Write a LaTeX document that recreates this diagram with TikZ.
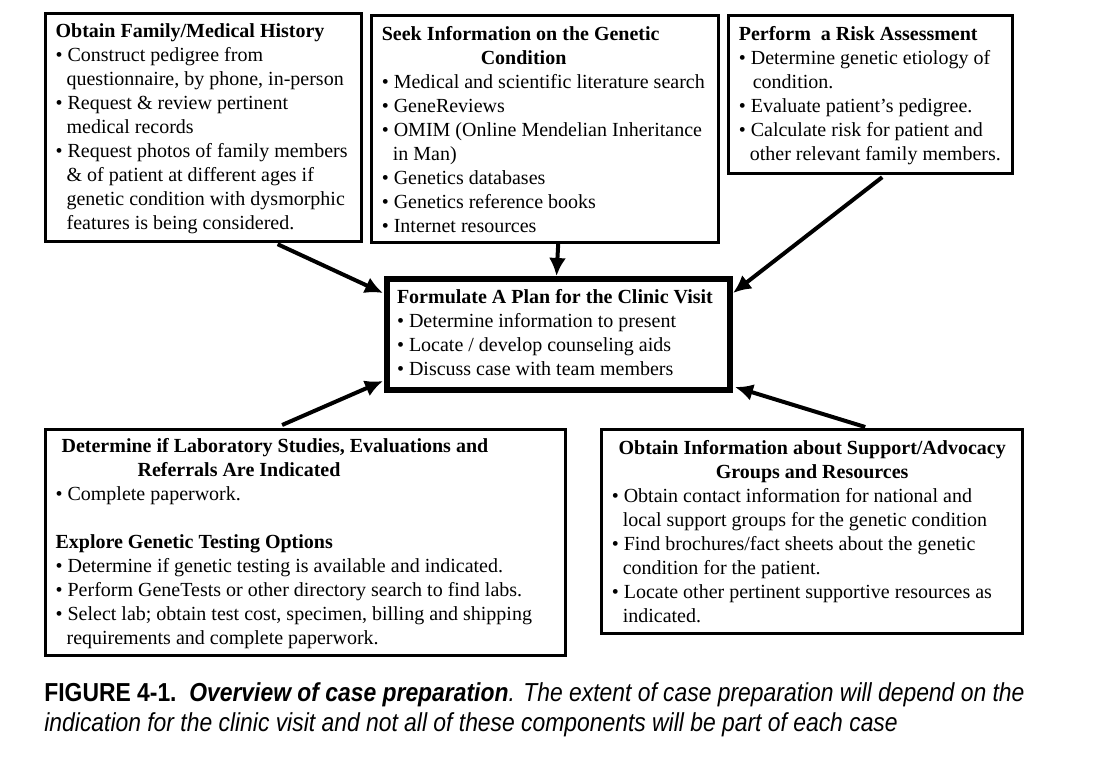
\documentclass[tikz,border=0pt]{standalone}
\usepackage{fontspec}
\setmainfont{Liberation Serif}
\newfontfamily\capfont[FakeStretch=0.88]{Liberation Sans}
\usetikzlibrary{positioning,arrows.meta}

\newcommand{\ttl}[2][0pt]{\par\noindent\hspace*{#1}\mbox{\textbf{#2}}}
\newcommand{\blt}[1]{\par\noindent\mbox{\textbullet\ #1}}
\newcommand{\cnt}[1]{\par\noindent\hspace*{5.5pt}\mbox{#1}}

\begin{document}
\begin{tikzpicture}[x=0.5pt,y=-0.5pt,
	box/.style={draw, line width=1.6pt, anchor=north west, align=flush left, inner xsep=5pt, inner ysep=0pt, font=\fontsize{10}{12}\selectfont},
	arr/.style={-{Latex[length=9pt,width=8.5pt]}, line width=2pt}]
	\useasboundingbox (0,0) rectangle (1097,765);

	\node [box, text width=148pt, minimum height=114pt] (hist) at (44,12)
		{\vspace*{-4pt}\ttl{Obtain Family/Medical History}
		\blt{Construct pedigree from}
		\cnt{questionnaire, by phone, in-person}
		\blt{Request \& review pertinent}
		\cnt{medical records}
		\blt{Request photos of family members}
		\cnt{\& of patient at different ages if}
		\cnt{genetic condition with dysmorphic}
		\cnt{features is being considered.}};
	\node [box, right=3.5pt of hist.north east, anchor=north west, yshift=-1pt, text width=163.4pt, minimum height=113.4pt] (info)
		{\vspace*{-4.5pt}\ttl{Seek Information on the Genetic}
		\ttl[49.5pt]{Condition}
		\blt{Medical and scientific literature search}
		\blt{GeneReviews}
		\blt{OMIM (Online Mendelian Inheritance}
		\cnt{in Man)}
		\blt{Genetics databases}
		\blt{Genetics reference books}
		\blt{Internet resources}};
	\node [box, right=3.5pt of info.north east, anchor=north west, text width=131.9pt, minimum height=79pt] (risk)
		{\vspace*{-4pt}\ttl{Perform\ \ a Risk Assessment}
		\blt{Determine genetic etiology of}
		\cnt{\hspace*{1.5pt}condition.}
		\blt{Evaluate patient’s pedigree.}
		\blt{Calculate risk for patient and}
		\cnt{other relevant family members.}};
	\node [box, line width=3pt, text width=161.5pt, minimum height=55.5pt] (plan) at (384,276)
		{\vspace*{-7pt}\ttl{Formulate A Plan for the Clinic Visit}
		\blt{Determine information to present}
		\blt{Locate / develop counseling aids}
		\blt{Discuss case with team members}};
	\node [box, text width=250pt, minimum height=113pt] (lab) at (44,428)
		{\vspace*{-4pt}\ttl[3pt]{Determine if Laboratory Studies, Evaluations and}
		\ttl[41pt]{Referrals Are Indicated}
		\blt{Complete paperwork.}
		\par\noindent\mbox{}
		\ttl{Explore Genetic Testing Options}
		\blt{Determine if genetic testing is available and indicated.}
		\blt{Perform GeneTests or other directory search to find labs.}
		\blt{Select lab; obtain test cost, specimen, billing and shipping}
		\cnt{requirements and complete paperwork.}};
	\node [box, right=16.5pt of lab.north east, anchor=north west, text width=200.4pt, minimum height=102pt] (supp)
		{{\centering\textbf{Obtain Information about Support/Advocacy}\par
		\textbf{Groups and Resources}\par}
		\blt{Obtain contact information for national and}
		\cnt{local support groups for the genetic condition}
		\blt{Find brochures/fact sheets about the genetic}
		\cnt{condition for the patient.}
		\blt{Locate other pertinent supportive resources as}
		\cnt{indicated.}};
	\node [below=12.5pt of lab.south west, anchor=north west, inner sep=0pt, align=left, font=\capfont\fontsize{13}{15}\selectfont] (cap)
		{\textbf{FIGURE 4-1.}\ \ \textbf{\textit{Overview of case preparation}}\textit{. The extent of case preparation will depend on the}\\
		\textit{indication for the clinic visit and not all of these components will be part of each case}};

	\draw [arr] ([xshift=37pt,yshift=-0.5pt]hist.south) -- ([xshift=-0.5pt,yshift=-8.5pt]plan.north west);
	\draw [arr] ([xshift=6.5pt]info.south) -- ([xshift=-1pt]plan.north);
	\draw [arr] ([xshift=5.75pt,yshift=-1pt]risk.south) -- ([yshift=-8.5pt]plan.north east);
	\draw [arr] ([xshift=-11.75pt,yshift=1.5pt]lab.north) -- ([xshift=-0.5pt,yshift=6pt]plan.south west);
	\draw [arr] ([xshift=26.5pt,yshift=0.5pt]supp.north) -- ([xshift=1pt,yshift=3pt]plan.south east);
\end{tikzpicture}
\end{document}
